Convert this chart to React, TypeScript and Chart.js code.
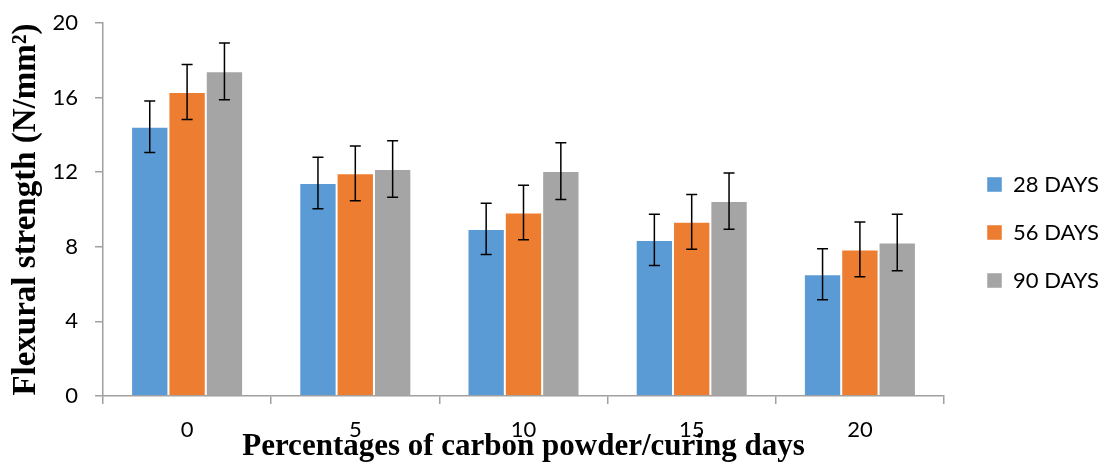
import React, { useEffect, useRef } from "react";
import { Chart, registerables } from "chart.js";

Chart.register(...registerables);

const categories = ["0", "5", "10", "15", "20"];
const seriesNames = ["28 DAYS", "56 DAYS", "90 DAYS"];
const days28 = [14.44, 11.42, 8.96, 8.37, 6.53];
const days56 = [16.3, 11.94, 9.84, 9.34, 7.86];
const days90 = [17.41, 12.17, 12.06, 10.45, 8.23];
const err28 = [1.38, 1.38, 1.37, 1.37, 1.37];
const err56 = [1.47, 1.47, 1.46, 1.47, 1.47];
const err90 = [1.52, 1.51, 1.52, 1.51, 1.52];
const yTicks = [0, 4, 8, 12, 16, 20];

const colors = ["#5B9BD5", "#ED7D31", "#A5A5A5"];
const axisColor = "#a0a0a0";

const errorBarPlugin = {
  id: "errorBars",
  afterDatasetsDraw(chart: any) {
    const { ctx } = chart;
    const yScale = chart.scales.y;
    ctx.save();
    ctx.strokeStyle = "#000";
    ctx.lineWidth = 1.5;
    chart.data.datasets.forEach((ds: any, di: number) => {
      const meta = chart.getDatasetMeta(di);
      meta.data.forEach((bar: any, i: number) => {
        const v = ds.data[i];
        const e = ds.errors[i];
        const x = bar.x;
        const yTop = yScale.getPixelForValue(v + e);
        const yBot = yScale.getPixelForValue(v - e);
        const cap = 5.5;
        ctx.beginPath();
        ctx.moveTo(x, yTop);
        ctx.lineTo(x, yBot);
        ctx.moveTo(x - cap, yTop);
        ctx.lineTo(x + cap, yTop);
        ctx.moveTo(x - cap, yBot);
        ctx.lineTo(x + cap, yBot);
        ctx.stroke();
      });
    });
    ctx.restore();
  },
};

export default function App() {
  const canvasRef = useRef<HTMLCanvasElement | null>(null);

  useEffect(() => {
    if (!canvasRef.current) return;
    const values = [days28, days56, days90];
    const errors = [err28, err56, err90];
    const chart = new Chart(canvasRef.current, {
      type: "bar",
      data: {
        labels: categories,
        datasets: seriesNames.map((name, k) => ({
          label: name,
          data: values[k],
          errors: errors[k],
          backgroundColor: colors[k],
          borderColor: "rgba(255,255,255,0.45)",
          borderWidth: 1,
          categoryPercentage: 0.666,
          barPercentage: 1,
        })) as any,
      },
      options: {
        animation: false,
        responsive: true,
        maintainAspectRatio: false,
        layout: { padding: 0 },
        plugins: {
          tooltip: { enabled: false },
          legend: {
            position: "right",
            align: "center",
            maxWidth: 139,
            labels: {
              boxWidth: 15,
              boxHeight: 15,
              padding: 26,
              color: "#000",
              font: { family: "Lato", size: 22 },
            },
          } as any,
        },
        scales: {
          x: {
            position: "bottom",
            grid: {
              offset: true,
              drawOnChartArea: false,
              tickLength: 8,
              color: axisColor,
              lineWidth: 1.5,
            },
            border: { color: axisColor, width: 1.5 },
            ticks: {
              color: "#000",
              padding: 13,
              font: { family: "Lato", size: 22 },
            },
            title: {
              display: true,
              text: "Percentages of carbon powder/curing days",
              color: "#000",
              font: { family: "Liberation Serif", size: 31, weight: "bold" },
              padding: { top: 0, bottom: -1 },
            },
            afterFit: (s: any) => {
              s.height = 69;
            },
          },
          x2: {
            type: "linear",
            axis: "x",
            position: "top",
            display: true,
            grid: { display: false, drawTicks: false },
            ticks: { display: false },
            border: { display: false },
            afterFit: (s: any) => {
              s.height = 23;
            },
          } as any,
          y: {
            min: 0,
            max: 20,
            afterBuildTicks: (s: any) => {
              s.ticks = yTicks.map((v) => ({ value: v }));
            },
            grid: {
              drawOnChartArea: false,
              tickLength: 8,
              color: axisColor,
              lineWidth: 1.5,
            },
            border: { color: axisColor, width: 1.5 },
            ticks: {
              color: "#000",
              padding: 17,
              font: { family: "Lato", size: 22 },
            },
            title: {
              display: true,
              text: "Flexural strength (N/mm²)",
              color: "#000",
              font: { family: "Liberation Serif", size: 33, weight: "bold" },
              padding: { top: 7, bottom: 0 },
            },
            afterFit: (s: any) => {
              s.width = 103;
              s.paddingTop = 0;
              s.paddingBottom = 0;
            },
          },
          y2: {
            type: "linear",
            position: "right",
            display: true,
            grid: { display: false, drawTicks: false },
            ticks: { display: false },
            border: { display: false },
            afterFit: (s: any) => {
              s.width = 17;
            },
          } as any,
        },
      },
      plugins: [errorBarPlugin],
    });
    return () => chart.destroy();
  }, []);

  return (
    <div
      style={{
        position: "absolute",
        left: 0,
        top: 0,
        width: 1100,
        height: 465,
        background: "#fff",
      }}
    >
      <canvas ref={canvasRef} />
    </div>
  );
}
